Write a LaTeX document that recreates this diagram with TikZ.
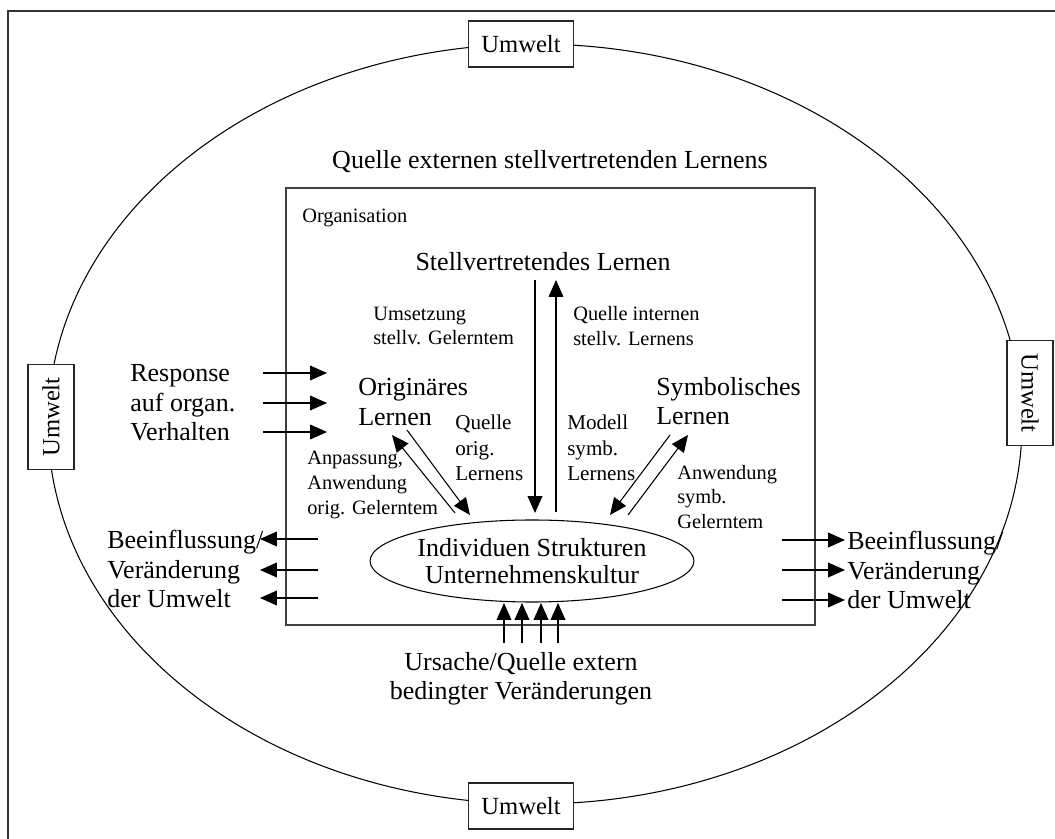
\documentclass[tikz,border=0pt]{standalone}
\usepackage{fontspec}
\setmainfont{Liberation Serif}
\usetikzlibrary{arrows.meta,positioning,shapes.geometric}

\begin{document}
\begin{tikzpicture}[
    x=0.025cm,y=-0.025cm,
    bigtxt/.style={font=\fontsize{18.5}{21}\selectfont,inner sep=0pt,align=left},
    smalltxt/.style={font=\fontsize{14.5}{17.5}\selectfont,inner sep=0pt,align=left},
    umwelt/.style={draw=black!85,fill=white,line width=0.75pt,
      font=\fontsize{17.5}{20}\selectfont,minimum width=2.625cm,
      minimum height=1.15cm,inner sep=0pt},
    arr/.style={-{Triangle[length=12pt,width=10.5pt]},line width=0.75pt}
  ]
    \useasboundingbox (0,0) rectangle (1055,839);
    \draw[black!80,line width=1pt] (8,839) -- (8,11) -- (1055,11);

    % Umwelt
    \draw[line width=0.75pt] (535,424) ellipse [x radius=487,y radius=380];
    \node[umwelt] (umtop) at (521,44) {Umwelt};
    \node[umwelt] (umbot) at (521,806) {Umwelt};
    \node[umwelt,rotate=90] (umleft) at (51,417) {Umwelt};
    \node[umwelt,rotate=-90] (umright) at (1030,393) {Umwelt};

    % Organisation
    \draw[black!75,line width=1pt] (286,188) rectangle (815,625);
    \node[bigtxt] (quext) at (550,162) {Quelle externen stellvertretenden Lernens};
    \node[smalltxt,anchor=west] (orga) at (302,218) {Organisation};
    \node[bigtxt] (stell) at (543,262) {Stellvertretendes Lernen};
    \node[smalltxt,anchor=west] (umsetz) at (373,326) {Umsetzung\\stellv. Gelerntem};
    \node[smalltxt,anchor=west] (quint) at (573,326) {Quelle internen\\stellv. Lernens};
    \node[bigtxt,anchor=west] (orig) at (358,402) {Originäres\\Lernen};
    \node[bigtxt,anchor=west] (symb) at (656,401) {Symbolisches\\Lernen};
    \node[smalltxt,anchor=west,font=\fontsize{15}{18}\selectfont] (quorig)
      at (455,448) {Quelle\\orig.\\Lernens};
    \node[smalltxt,anchor=west,font=\fontsize{15}{18}\selectfont] (modell)
      at (567,448) {Modell\\symb.\\Lernens};
    \node[smalltxt,anchor=west] (anpass) at (307,485)
      {Anpassung,\\Anwendung\\orig. Gelerntem};
    \node[smalltxt,anchor=west] (anwsym) at (677,497)
      {Anwendung\\symb.\\Gelerntem};
    \node[draw,ellipse,line width=0.75pt,minimum width=7.45cm,
      minimum height=2.05cm,inner sep=0pt,align=center,
      font=\fontsize{18.5}{19.5}\selectfont] (indiv) at (532,561)
      {Individuen Strukturen\\Unternehmenskultur};
    \node[bigtxt,align=center] (ursache) at (521,679)
      {Ursache/Quelle extern\\bedingter Veränderungen};
    \node[bigtxt,anchor=west] (resp) at (130,403)
      {Response\\auf organ.\\Verhalten};
    \node[bigtxt,anchor=west] (beeinl) at (107,569)
      {Beeinflussung/\\Veränderung\\der Umwelt};
    \node[bigtxt,anchor=west] (beeinr) at (847,570)
      {Beeinflussung/\\Veränderung\\der Umwelt};

    % vertical and diagonal arrows
    \coordinate (vd1) at (535,280);
    \coordinate (vd2) at (535,513);
    \coordinate (vu1) at (556,512);
    \coordinate (vu2) at (556,280);
    \draw[arr] (vd1) -- (vd2);
    \draw[arr] (vu1) -- (vu2);
    \coordinate (ol1) at (407,430);
    \coordinate (ol2) at (470,515);
    \coordinate (ou1) at (455,513);
    \coordinate (ou2) at (392,435);
    \draw[arr] (ol1) -- (ol2);
    \draw[arr] (ou1) -- (ou2);
    \coordinate (sd1) at (670,435);
    \coordinate (sd2) at (610,515);
    \coordinate (su1) at (628,515);
    \coordinate (su2) at (688,435);
    \draw[arr] (sd1) -- (sd2);
    \draw[arr] (su1) -- (su2);

    % external influences
    \foreach \x [count=\i] in {504,522,541,558} {
      \coordinate (ub\i) at (\x,643);
      \coordinate (ut\i) at (\x,603);
      \draw[arr] (ub\i) -- (ut\i);
    }
    \foreach \y [count=\i] in {373,403,432} {
      \coordinate (rs\i) at (263,\y);
      \coordinate (re\i) at (327,\y);
      \draw[arr] (rs\i) -- (re\i);
    }
    \foreach \y [count=\i] in {539,570,598} {
      \coordinate (ls\i) at (318,\y);
      \coordinate (le\i) at (260,\y);
      \draw[arr] (ls\i) -- (le\i);
    }
    \foreach \y [count=\i] in {540,570,600} {
      \coordinate (gs\i) at (782,\y);
      \coordinate (ge\i) at (845,\y);
      \draw[arr] (gs\i) -- (ge\i);
    }
  \end{tikzpicture}
\end{document}
